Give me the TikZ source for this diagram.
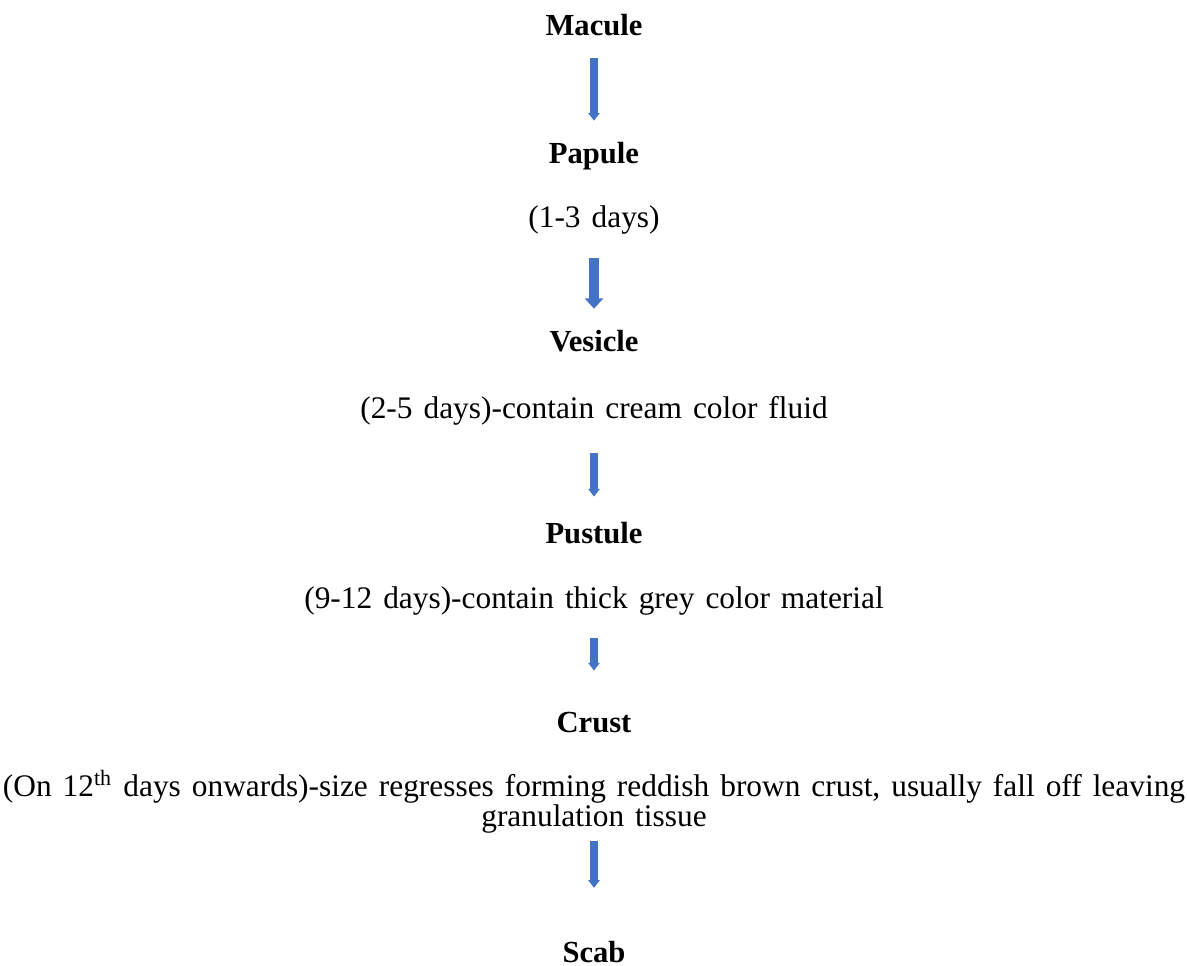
\documentclass[tikz,border=0pt]{standalone}
\usepackage{fontspec}
\setmainfont{Liberation Serif}
\usetikzlibrary{arrows.meta}

\definecolor{arrowblue}{RGB}{68,114,196}
\DeclareRobustCommand{\widespaces}{\spaceskip=0.35em\relax}

\tikzset{
	stage/.style={font=\fontsize{12}{14}\selectfont\bfseries, anchor=base, inner sep=0pt, text height=0.7em, text depth=0.25em},
	note/.style={font=\fontsize{12.3}{14}\selectfont, execute at begin node=\widespaces, anchor=base, inner sep=0pt, text height=0.7em, text depth=0.25em},
	flow/.style={draw=arrowblue, line width=2.8pt, -{Triangle[width=4.4pt, length=3pt]}},
	bigflow/.style={draw=arrowblue, line width=4.2pt, -{Triangle[width=7pt, length=4pt]}}
}

\begin{document}
\begin{tikzpicture}[x=0.392pt, y=-0.392pt]
				\useasboundingbox (0,0) rectangle (1187,965);
				% Nodes
				\node (macule) [stage] at (594,35) {Macule};
				\node (papule) [stage] at (594,163) {Papule};
				\node (papnote) [note] at (594,227) {(1-3 days)};
				\node (vesicle) [stage] at (594,351) {Vesicle};
				\node (vesnote) [note] at (594,418) {(2-5 days)-contain cream color fluid};
				\node (pustule) [stage] at (594,543) {Pustule};
				\node (pusnote) [note] at (594,608) {(9-12 days)-contain thick grey color material};
				\node (crust) [stage] at (594,732) {Crust};
				\node (crustnote) [font=\fontsize{12.3}{11.8}\selectfont, execute at begin node=\widespaces, anchor=north, inner sep=0pt, align=center] at (594,770)
					{(On 12\textsuperscript{th} days onwards)-size regresses forming reddish brown crust, usually fall off leaving\\granulation tissue};
				\node (scab) [stage, text depth=0pt] at (594,962) {Scab};
				
				% Arrows
				\draw[flow, shorten <=6.5pt, shorten >=9.4pt] (macule) -- (papule);
				\draw[bigflow, shorten <=9.3pt, shorten >=9.4pt] (papnote) -- (vesicle);
				\draw[flow, shorten <=11.2pt, shorten >=11pt] (vesnote) -- (pustule);
				\draw[flow, shorten <=9.2pt, shorten >=16.9pt] (pusnote) -- (crust);
				\draw[flow, line width=3.2pt, shorten <=2.7pt, shorten >=21.9pt] (crustnote) -- (scab);
			\end{tikzpicture}
\end{document}
